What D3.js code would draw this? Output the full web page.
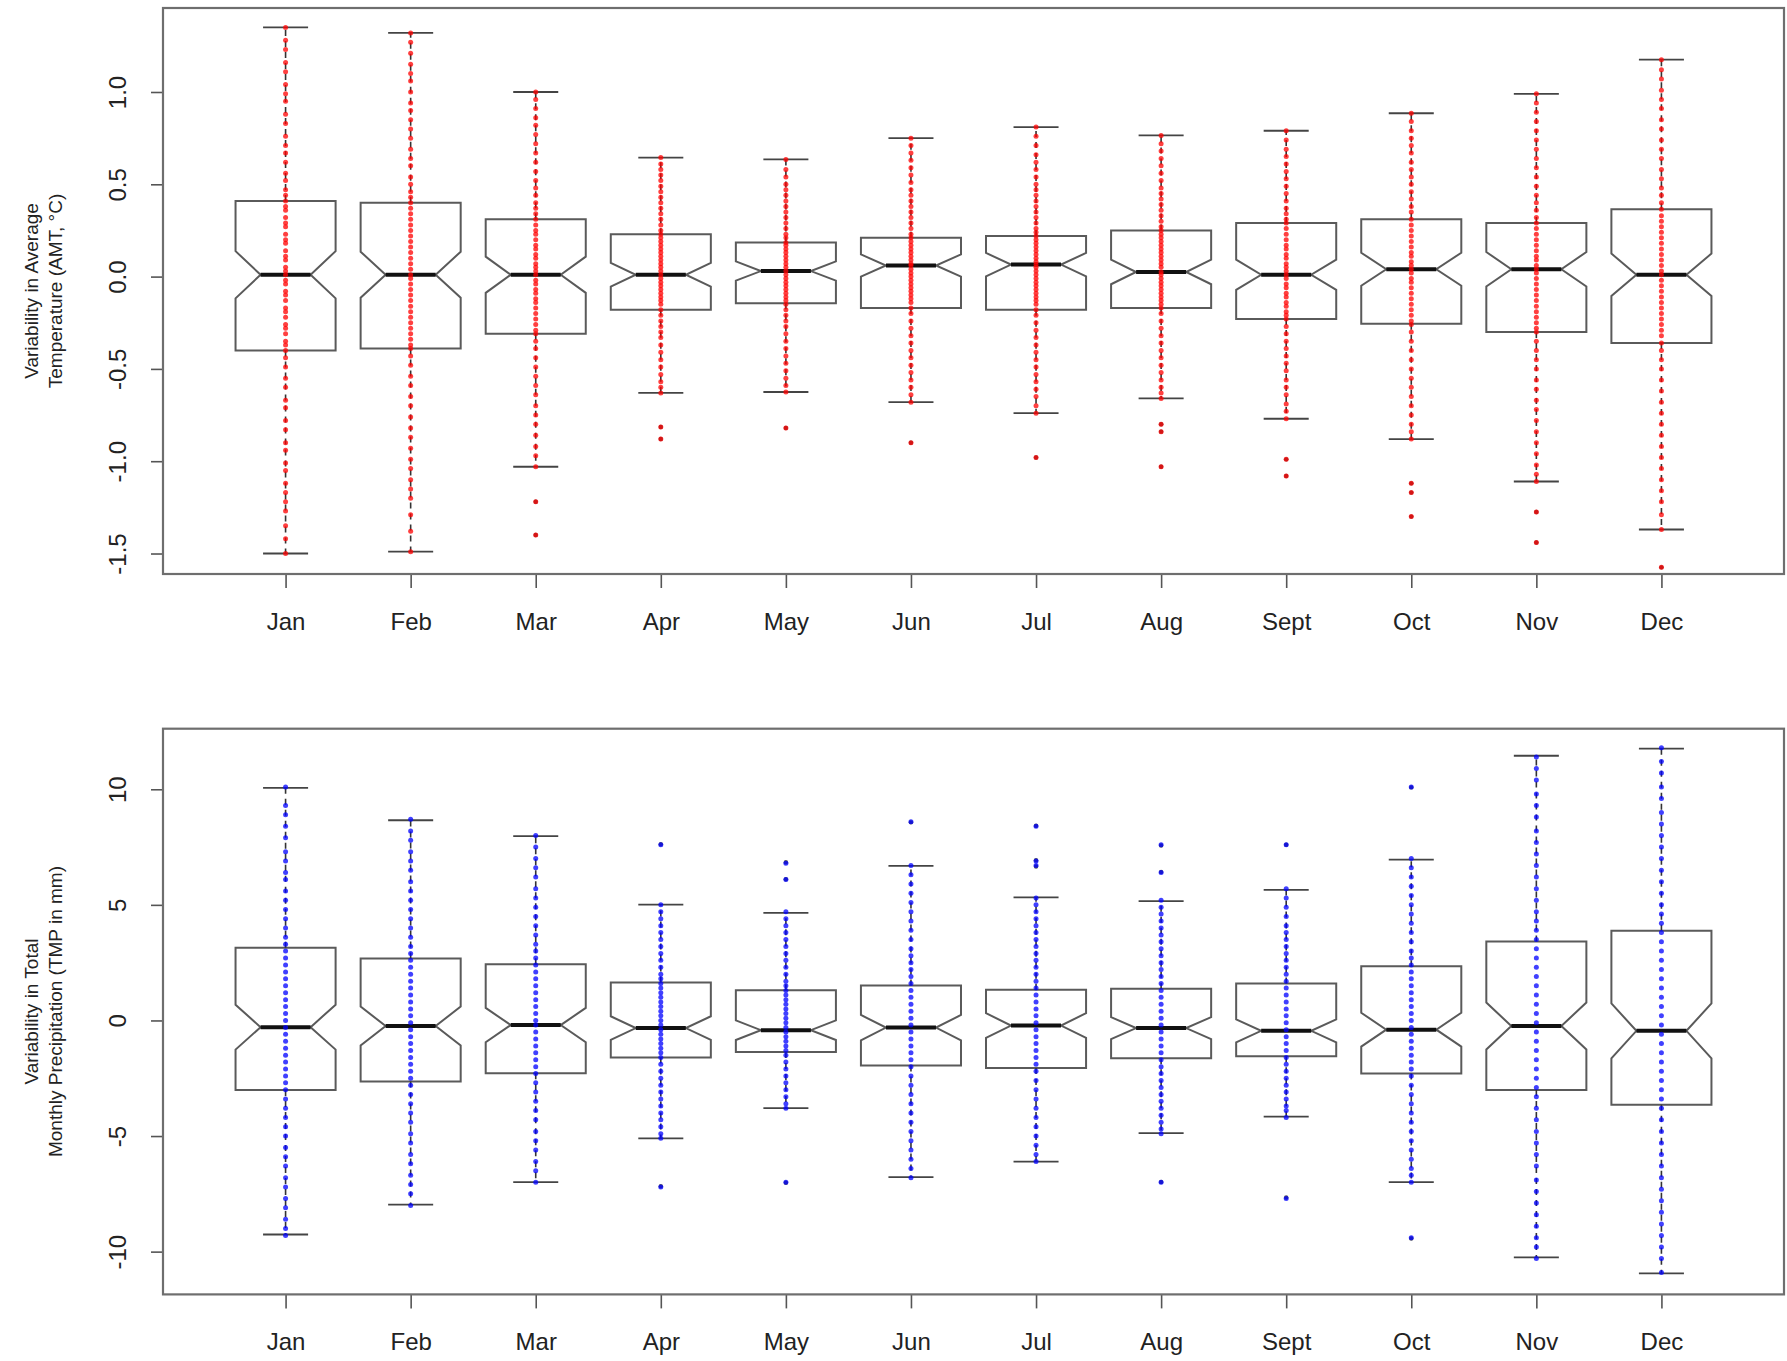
<!DOCTYPE html>
<html>
<head>
<meta charset="utf-8">
<title>Monthly variability boxplots</title>
<script src="https://cdn.jsdelivr.net/npm/d3@7"></script>
<style>
  body { margin: 0; background: #fff; }
  text { font-family: "Liberation Sans", Arial, sans-serif; fill: #222; }
</style>
</head>
<body>
<svg id="chart" width="1787" height="1361"></svg>
<script>
const months = ["Jan", "Feb", "Mar", "Apr", "May", "Jun", "Jul", "Aug", "Sept", "Oct", "Nov", "Dec"];
const nYears = 100; // used for the notch width, as R does

// ---- temperature (AMT, deg C) ----
const tempLow  = [-1.50, -1.49, -1.03, -0.63, -0.625, -0.68, -0.74, -0.66, -0.77, -0.88, -1.11, -1.37];
const tempQ1   = [-0.40, -0.39, -0.31, -0.18, -0.145, -0.17, -0.18, -0.17, -0.23, -0.255, -0.30, -0.36];
const tempMed  = [0.01, 0.01, 0.01, 0.01, 0.03, 0.06, 0.065, 0.025, 0.01, 0.04, 0.04, 0.01];
const tempQ3   = [0.41, 0.40, 0.31, 0.23, 0.185, 0.21, 0.22, 0.25, 0.29, 0.31, 0.29, 0.365];
const tempHigh = [1.35, 1.32, 1.00, 0.645, 0.635, 0.75, 0.81, 0.765, 0.79, 0.885, 0.99, 1.175];
const tempOut  = [[], [], [-1.22, -1.40], [-0.815, -0.88], [-0.82], [-0.90], [-0.98],
                  [-0.80, -0.84, -1.03], [-0.99, -1.08], [-1.12, -1.17, -1.30], [-1.275, -1.44], [-1.575]];
const tempPts = [
  [1.35,1.28,1.23,1.16,1.11,1.04,0.99,0.95,0.88,0.83,0.76,0.71,0.67,0.62,0.56,0.52,0.47,0.44,0.41,0.38,0.36,0.32,0.29,0.27,0.23,0.20,0.18,0.14,0.11,0.09,0.05,0.03,0.01,-0.02,-0.04,-0.08,-0.10,-0.13,-0.17,-0.19,-0.22,-0.26,-0.28,-0.31,-0.35,-0.37,-0.40,-0.44,-0.49,-0.55,-0.60,-0.67,-0.71,-0.78,-0.83,-0.90,-0.94,-1.01,-1.05,-1.12,-1.17,-1.22,-1.27,-1.35,-1.42,-1.50],
  [1.32,1.27,1.21,1.15,1.10,1.06,1.00,0.94,0.90,0.85,0.80,0.75,0.69,0.64,0.60,0.54,0.50,0.46,0.43,0.40,0.37,0.34,0.31,0.28,0.25,0.22,0.19,0.16,0.13,0.10,0.07,0.04,0.01,-0.01,-0.04,-0.07,-0.10,-0.13,-0.16,-0.19,-0.22,-0.25,-0.28,-0.31,-0.34,-0.37,-0.39,-0.43,-0.48,-0.54,-0.59,-0.65,-0.70,-0.76,-0.82,-0.87,-0.93,-0.99,-1.04,-1.10,-1.15,-1.20,-1.29,-1.38,-1.49],
  [1.00,0.96,0.91,0.86,0.82,0.77,0.72,0.67,0.62,0.57,0.52,0.48,0.44,0.40,0.37,0.34,0.31,0.28,0.25,0.23,0.20,0.17,0.15,0.12,0.10,0.07,0.05,0.03,0.01,-0.02,-0.04,-0.07,-0.09,-0.12,-0.14,-0.17,-0.20,-0.23,-0.26,-0.29,-0.31,-0.35,-0.39,-0.44,-0.49,-0.54,-0.59,-0.64,-0.70,-0.75,-0.80,-0.86,-0.92,-0.97,-1.03,-1.22,-1.40],
  [0.645,0.61,0.58,0.55,0.52,0.49,0.46,0.43,0.40,0.37,0.34,0.31,0.28,0.25,0.23,0.21,0.19,0.17,0.15,0.13,0.11,0.09,0.07,0.05,0.03,0.01,-0.01,-0.03,-0.05,-0.07,-0.09,-0.11,-0.13,-0.15,-0.18,-0.21,-0.24,-0.27,-0.30,-0.33,-0.37,-0.41,-0.45,-0.49,-0.53,-0.57,-0.60,-0.63,-0.815,-0.88],
  [0.635,0.58,0.54,0.50,0.47,0.44,0.41,0.38,0.35,0.32,0.29,0.26,0.23,0.21,0.185,0.17,0.15,0.13,0.11,0.09,0.07,0.05,0.03,0.01,-0.01,-0.03,-0.05,-0.07,-0.09,-0.11,-0.13,-0.15,-0.18,-0.21,-0.24,-0.27,-0.31,-0.35,-0.39,-0.43,-0.47,-0.51,-0.55,-0.59,-0.625,-0.82],
  [0.75,0.71,0.67,0.63,0.59,0.55,0.51,0.47,0.44,0.41,0.38,0.35,0.32,0.29,0.26,0.23,0.21,0.19,0.17,0.15,0.13,0.11,0.09,0.07,0.06,0.04,0.02,0.00,-0.02,-0.04,-0.06,-0.08,-0.10,-0.12,-0.14,-0.17,-0.20,-0.24,-0.28,-0.32,-0.36,-0.40,-0.44,-0.48,-0.52,-0.56,-0.60,-0.64,-0.68,-0.90],
  [0.81,0.76,0.71,0.66,0.62,0.58,0.54,0.50,0.47,0.44,0.41,0.38,0.35,0.32,0.29,0.26,0.24,0.22,0.20,0.18,0.16,0.14,0.12,0.10,0.08,0.065,0.05,0.03,0.01,-0.01,-0.03,-0.05,-0.07,-0.09,-0.11,-0.13,-0.15,-0.18,-0.21,-0.25,-0.29,-0.33,-0.37,-0.41,-0.45,-0.49,-0.53,-0.57,-0.61,-0.65,-0.70,-0.74,-0.98],
  [0.765,0.72,0.68,0.64,0.60,0.56,0.52,0.48,0.45,0.42,0.39,0.36,0.33,0.30,0.27,0.25,0.23,0.21,0.19,0.17,0.15,0.13,0.11,0.09,0.07,0.05,0.025,0.01,-0.01,-0.03,-0.05,-0.07,-0.09,-0.11,-0.13,-0.15,-0.17,-0.20,-0.24,-0.28,-0.32,-0.36,-0.40,-0.44,-0.48,-0.52,-0.56,-0.60,-0.63,-0.66,-0.80,-0.84,-1.03],
  [0.79,0.74,0.69,0.65,0.61,0.57,0.53,0.49,0.45,0.41,0.37,0.34,0.31,0.29,0.26,0.23,0.20,0.17,0.15,0.12,0.10,0.07,0.05,0.03,0.01,-0.01,-0.04,-0.06,-0.09,-0.11,-0.14,-0.16,-0.19,-0.21,-0.23,-0.27,-0.31,-0.35,-0.39,-0.43,-0.47,-0.51,-0.56,-0.60,-0.64,-0.69,-0.73,-0.77,-0.99,-1.08],
  [0.885,0.84,0.79,0.75,0.71,0.67,0.62,0.58,0.54,0.50,0.46,0.42,0.38,0.35,0.31,0.28,0.25,0.22,0.19,0.16,0.13,0.11,0.08,0.06,0.04,0.02,-0.01,-0.03,-0.06,-0.09,-0.12,-0.15,-0.18,-0.21,-0.24,-0.26,-0.30,-0.35,-0.40,-0.45,-0.50,-0.55,-0.60,-0.65,-0.70,-0.75,-0.80,-0.84,-0.88,-1.12,-1.17,-1.30],
  [0.99,0.94,0.89,0.84,0.79,0.74,0.69,0.64,0.59,0.54,0.49,0.44,0.40,0.36,0.32,0.29,0.26,0.23,0.20,0.17,0.14,0.11,0.09,0.06,0.04,0.02,-0.01,-0.04,-0.07,-0.10,-0.13,-0.16,-0.19,-0.22,-0.25,-0.28,-0.30,-0.35,-0.40,-0.45,-0.50,-0.56,-0.61,-0.67,-0.72,-0.78,-0.84,-0.90,-0.96,-1.02,-1.07,-1.11,-1.275,-1.44],
  [1.175,1.12,1.07,1.01,0.96,0.91,0.85,0.80,0.74,0.69,0.64,0.58,0.53,0.48,0.44,0.40,0.365,0.33,0.30,0.27,0.24,0.21,0.18,0.15,0.12,0.09,0.06,0.03,0.01,-0.02,-0.05,-0.08,-0.11,-0.14,-0.17,-0.20,-0.23,-0.26,-0.29,-0.32,-0.36,-0.40,-0.45,-0.50,-0.56,-0.62,-0.68,-0.74,-0.80,-0.86,-0.92,-0.98,-1.04,-1.10,-1.16,-1.22,-1.29,-1.37,-1.575]
];

// ---- precipitation (TMP, mm) ----
const precLow  = [-9.26, -7.97, -6.99, -5.10, -3.79, -6.78, -6.11, -4.87, -4.16, -6.99, -10.25, -10.94];
const precQ1   = [-3.01, -2.64, -2.28, -1.60, -1.37, -1.95, -2.06, -1.64, -1.55, -2.30, -3.01, -3.65];
const precMed  = [-0.29, -0.24, -0.20, -0.33, -0.42, -0.31, -0.22, -0.33, -0.45, -0.40, -0.24, -0.45];
const precQ3   = [3.14, 2.68, 2.43, 1.64, 1.31, 1.51, 1.33, 1.37, 1.60, 2.34, 3.41, 3.88];
const precHigh = [10.06, 8.66, 7.97, 5.01, 4.65, 6.69, 5.32, 5.16, 5.65, 6.96, 11.45, 11.76];
const precOut  = [[], [], [], [7.62, -7.17], [6.84, 6.11, -7.02], [8.57], [8.42, 6.93, 6.66],
                  [7.57, 6.42, -6.99], [7.60, -7.66], [10.08, -9.43], [], []];
const precPts = [
  [10.1,9.3,8.9,8.4,7.9,7.3,6.9,6.4,6.1,5.6,5.2,4.8,4.4,4.0,3.6,3.3,3.0,2.7,2.4,2.1,1.8,1.5,1.2,0.9,0.6,0.3,0.0,-0.3,-0.6,-0.9,-1.2,-1.5,-1.8,-2.1,-2.4,-2.7,-3.0,-3.4,-3.8,-4.2,-4.6,-5.0,-5.5,-5.9,-6.3,-6.8,-7.2,-7.7,-8.1,-8.6,-9.0,-9.3],
  [8.7,8.2,7.8,7.3,6.9,6.5,6.0,5.6,5.2,4.8,4.4,4.0,3.6,3.2,2.9,2.6,2.3,2.0,1.7,1.4,1.1,0.8,0.5,0.2,-0.1,-0.4,-0.7,-1.0,-1.3,-1.6,-1.9,-2.2,-2.5,-2.8,-3.2,-3.6,-4.0,-4.4,-4.9,-5.3,-5.8,-6.2,-6.7,-7.1,-7.5,-8.0],
  [8.0,7.5,7.0,6.6,6.2,5.7,5.3,4.9,4.5,4.1,3.7,3.3,3.0,2.7,2.4,2.1,1.8,1.5,1.2,0.9,0.6,0.3,0.0,-0.2,-0.5,-0.8,-1.1,-1.4,-1.7,-2.0,-2.3,-2.7,-3.1,-3.5,-3.9,-4.3,-4.8,-5.2,-5.6,-6.1,-6.5,-7.0],
  [7.6,5.0,4.7,4.4,4.1,3.8,3.5,3.2,2.9,2.6,2.3,2.0,1.8,1.6,1.4,1.2,1.0,0.8,0.6,0.4,0.2,0.0,-0.2,-0.4,-0.6,-0.8,-1.0,-1.2,-1.4,-1.6,-1.9,-2.2,-2.5,-2.8,-3.1,-3.4,-3.7,-4.0,-4.3,-4.6,-4.9,-5.1,-7.2],
  [6.8,6.1,4.7,4.4,4.1,3.8,3.5,3.2,2.9,2.6,2.3,2.0,1.7,1.5,1.3,1.1,0.9,0.7,0.5,0.3,0.1,-0.1,-0.3,-0.5,-0.7,-0.9,-1.1,-1.3,-1.5,-1.8,-2.1,-2.4,-2.7,-3.0,-3.3,-3.6,-3.8,-7.0],
  [8.6,6.7,6.3,5.9,5.5,5.1,4.7,4.3,3.9,3.5,3.1,2.8,2.5,2.2,1.9,1.6,1.3,1.0,0.7,0.4,0.1,-0.2,-0.5,-0.8,-1.1,-1.4,-1.7,-2.0,-2.4,-2.8,-3.2,-3.6,-4.0,-4.4,-4.8,-5.2,-5.6,-6.0,-6.4,-6.8],
  [8.4,6.9,6.7,5.3,5.0,4.7,4.4,4.1,3.8,3.5,3.2,2.9,2.6,2.3,2.0,1.7,1.4,1.1,0.8,0.5,0.2,-0.1,-0.4,-0.7,-1.0,-1.3,-1.6,-1.9,-2.2,-2.6,-3.0,-3.4,-3.8,-4.2,-4.6,-5.0,-5.4,-5.8,-6.1],
  [7.6,6.4,5.2,4.9,4.6,4.3,4.0,3.7,3.4,3.1,2.8,2.5,2.2,1.9,1.6,1.3,1.0,0.7,0.4,0.1,-0.2,-0.5,-0.8,-1.1,-1.4,-1.7,-2.0,-2.3,-2.6,-2.9,-3.2,-3.5,-3.8,-4.1,-4.4,-4.7,-4.9,-7.0],
  [7.6,5.7,5.3,4.9,4.5,4.1,3.8,3.5,3.2,2.9,2.6,2.3,2.0,1.7,1.4,1.1,0.8,0.5,0.2,-0.1,-0.4,-0.7,-1.0,-1.3,-1.6,-1.9,-2.2,-2.5,-2.8,-3.1,-3.4,-3.7,-3.9,-4.2,-7.7],
  [10.1,7.0,6.6,6.2,5.8,5.4,5.0,4.6,4.2,3.8,3.4,3.0,2.7,2.4,2.1,1.8,1.5,1.2,0.9,0.6,0.3,0.0,-0.3,-0.6,-0.9,-1.2,-1.5,-1.8,-2.1,-2.4,-2.8,-3.2,-3.6,-4.0,-4.4,-4.8,-5.2,-5.6,-6.0,-6.4,-6.7,-7.0,-9.4],
  [11.4,10.9,10.4,9.8,9.3,8.8,8.2,7.7,7.2,6.7,6.2,5.7,5.2,4.7,4.3,3.9,3.5,3.1,2.7,2.3,1.9,1.5,1.1,0.7,0.3,-0.1,-0.5,-0.9,-1.3,-1.7,-2.1,-2.5,-2.9,-3.3,-3.8,-4.3,-4.8,-5.3,-5.8,-6.3,-6.9,-7.4,-7.9,-8.4,-8.9,-9.4,-9.8,-10.3],
  [11.8,11.2,10.7,10.1,9.6,9.0,8.5,8.0,7.5,7.0,6.5,6.0,5.5,5.0,4.6,4.2,3.8,3.4,3.0,2.6,2.2,1.8,1.4,1.0,0.6,0.2,-0.2,-0.6,-1.0,-1.4,-1.8,-2.2,-2.6,-3.0,-3.4,-3.8,-4.3,-4.8,-5.3,-5.8,-6.3,-6.8,-7.3,-7.8,-8.3,-8.8,-9.3,-9.8,-10.3,-10.9]
];

const tempTicks = [-1.5, -1.0, -0.5, 0.0, 0.5, 1.0];
const precTicks = [-10, -5, 0, 5, 10];

const svg = d3.select("#chart");
const left = 163, right = 1784;

const x = d3.scalePoint().domain(months).range([left, right]).padding(0.98);
const unit = x.step();

function drawPanel(p) {
  const y = d3.scaleLinear().domain(p.domain).range([p.bottom, p.top]);
  const g = svg.append("g");

  // y axis, labels parallel to the axis as in R
  const ya = g.append("g")
    .attr("transform", `translate(${left},0)`)
    .call(d3.axisLeft(y).tickValues(p.ticks).tickSize(12).tickFormat(p.fmt));
  ya.select(".domain").remove();
  ya.selectAll("line").attr("stroke", "#555").attr("stroke-width", 1.6);
  ya.selectAll("text")
    .attr("transform", "rotate(-90)")
    .attr("x", 0).attr("y", -37).attr("dy", 0)
    .attr("text-anchor", "middle")
    .style("font-size", "24px").style("fill", "#222");

  // x axis
  const xa = g.append("g")
    .attr("transform", `translate(0,${p.bottom})`)
    .call(d3.axisBottom(x).tickSize(14));
  xa.select(".domain").remove();
  xa.selectAll("line").attr("stroke", "#555").attr("stroke-width", 1.6);
  xa.selectAll("text")
    .attr("y", 56).attr("dy", 0)
    .style("font-size", "24px").style("fill", "#222");

  // y title (two lines)
  const cy = (p.top + p.bottom) / 2;
  p.title.forEach((line, i) => {
    g.append("text")
      .attr("transform", `translate(${38 + i * 24},${cy}) rotate(-90)`)
      .attr("text-anchor", "middle")
      .style("font-size", "19px")
      .text(line);
  });

  // boxes
  const wid = unit * 0.4, nw = 0.5, staple = unit * 0.18;
  months.forEach((m, i) => {
    const cx = x(m);
    const half = 1.58 * (p.q3[i] - p.q1[i]) / Math.sqrt(nYears);
    const nLo = p.med[i] - half, nHi = p.med[i] + half;
    const xs = [-1, 1, 1, nw, 1, 1, -1, -1, -nw, -1].map(f => cx + wid * f);
    const ys = [p.q1[i], p.q1[i], nLo, p.med[i], nHi, p.q3[i], p.q3[i], nHi, p.med[i], nLo].map(y);
    g.append("polygon")
      .attr("points", xs.map((v, k) => v + "," + ys[k]).join(" "))
      .attr("fill", "none").attr("stroke", "#5a5a5a").attr("stroke-width", 2);
    g.append("line")
      .attr("x1", cx - wid * nw).attr("x2", cx + wid * nw)
      .attr("y1", y(p.med[i])).attr("y2", y(p.med[i]))
      .attr("stroke", "#111").attr("stroke-width", 4);
    [[p.q3[i], p.high[i]], [p.q1[i], p.low[i]]].forEach(([a, b]) => {
      g.append("line")
        .attr("x1", cx).attr("x2", cx).attr("y1", y(a)).attr("y2", y(b))
        .attr("stroke", "#333").attr("stroke-width", 1.6).attr("stroke-dasharray", "6,5");
      g.append("line")
        .attr("x1", cx - staple).attr("x2", cx + staple).attr("y1", y(b)).attr("y2", y(b))
        .attr("stroke", "#444").attr("stroke-width", 1.8);
    });
    g.selectAll(null).data(p.out[i]).join("circle")
      .attr("cx", cx).attr("cy", d => y(d)).attr("r", 2.2)
      .attr("fill", "#555");
    g.selectAll(null).data(p.pts[i]).join("circle")
      .attr("cx", cx).attr("cy", d => y(d)).attr("r", 2.5)
      .attr("fill", p.color).attr("fill-opacity", 0.75);
  });

  // frame
  g.append("rect")
    .attr("x", left).attr("y", p.top)
    .attr("width", right - left).attr("height", p.bottom - p.top)
    .attr("fill", "none").attr("stroke", "#6e6e6e").attr("stroke-width", 2.2);
}

drawPanel({
  top: 8, bottom: 574, domain: [-1.611, 1.455], ticks: tempTicks,
  fmt: d => d.toFixed(1),
  title: ["Variability in Average", "Temperature (AMT, \u00B0C)"],
  color: "#ff0000",
  low: tempLow, q1: tempQ1, med: tempMed, q3: tempQ3, high: tempHigh, out: tempOut, pts: tempPts
});

drawPanel({
  top: 728.7, bottom: 1294.4, domain: [-11.85, 12.62], ticks: precTicks,
  fmt: d => String(d),
  title: ["Variability in Total", "Monthly Precipitation (TMP in mm)"],
  color: "#0000ff",
  low: precLow, q1: precQ1, med: precMed, q3: precQ3, high: precHigh, out: precOut, pts: precPts
});
</script>
</body>
</html>
